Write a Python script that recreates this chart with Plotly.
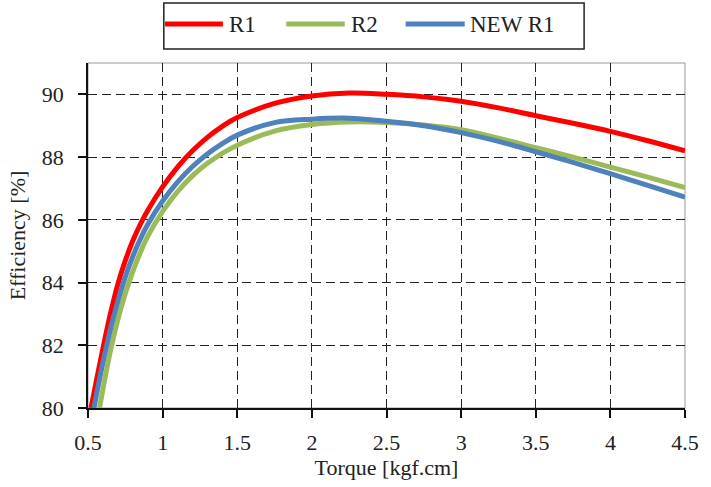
import plotly.graph_objects as go

# Torque [kgf.cm] and Efficiency [%]
r1_x = [0.52, 0.6, 0.65, 0.7, 0.75, 0.8, 0.85, 0.9, 1.0, 1.1, 1.2, 1.3, 1.4, 1.5, 1.75, 2.0, 2.25, 2.5, 2.75, 3.0, 3.25, 3.5, 3.75, 4.0, 4.25, 4.5]
r1_y = [80.0, 81.9, 83.0, 83.95, 84.7, 85.33, 85.85, 86.3, 87.05, 87.68, 88.2, 88.63, 88.98, 89.26, 89.71, 89.95, 90.04, 90.0, 89.92, 89.78, 89.57, 89.32, 89.08, 88.82, 88.52, 88.2]

r2_x = [0.577, 0.65, 0.7, 0.75, 0.8, 0.85, 0.9, 1.0, 1.1, 1.2, 1.3, 1.4, 1.5, 1.75, 2.0, 2.25, 2.5, 2.75, 3.0, 3.25, 3.5, 3.75, 4.0, 4.25, 4.5]
r2_y = [80.0, 81.82, 82.82, 83.65, 84.35, 84.95, 85.47, 86.27, 86.9, 87.4, 87.8, 88.12, 88.38, 88.83, 89.04, 89.12, 89.1, 89.02, 88.87, 88.6, 88.3, 88.0, 87.68, 87.36, 87.03]

new_r1_x = [0.54, 0.6, 0.65, 0.7, 0.75, 0.8, 0.85, 0.9, 1.0, 1.1, 1.2, 1.3, 1.4, 1.5, 1.75, 2.0, 2.25, 2.5, 2.75, 3.0, 3.25, 3.5, 3.75, 4.0, 4.25, 4.5]
new_r1_y = [80.0, 81.45, 82.5, 83.4, 84.18, 84.83, 85.38, 85.85, 86.6, 87.2, 87.7, 88.1, 88.43, 88.7, 89.1, 89.21, 89.24, 89.14, 89.0, 88.78, 88.5, 88.17, 87.83, 87.47, 87.1, 86.72]

series_names = ["R1", "R2", "NEW R1"]
series_colors = ["#FF0000", "#9BBB59", "#4F81BD"]

x_ticks = [0.5, 1, 1.5, 2, 2.5, 3, 3.5, 4, 4.5]
x_tick_text = ["0.5", "1", "1.5", "2", "2.5", "3", "3.5", "4", "4.5"]
y_ticks = [80, 82, 84, 86, 88, 90]

FONT = "Liberation Serif, Times New Roman, Times, serif"
TXT = "#222"

fig = go.Figure()
for name, xs, ys, col in zip(series_names, [r1_x, r2_x, new_r1_x], [r1_y, r2_y, new_r1_y], series_colors):
    fig.add_trace(go.Scatter(x=xs, y=ys, mode="lines", name=name, showlegend=False,
                             line=dict(color=col, width=5, shape="spline", smoothing=1.0)))

fig.update_layout(
    width=711, height=487,
    margin=dict(l=88, r=18, t=63, b=79),
    paper_bgcolor="white", plot_bgcolor="white",
    font=dict(family=FONT, size=22, color=TXT),
    xaxis=dict(range=[0.5, 4.5], tickvals=x_ticks, ticktext=x_tick_text,
               showgrid=True, gridcolor="#222", griddash="9px,5px", gridwidth=1.3,
               showline=True, linecolor="#111", linewidth=1.8,
               ticks="outside", ticklen=8, tickwidth=1.5, tickcolor="#111",
               ticklabelstandoff=6, zeroline=False,
               tickfont=dict(family=FONT, size=22, color=TXT),
               title=dict(text="Torque [kgf.cm]", standoff=4, font=dict(size=22, family=FONT, color=TXT))),
    yaxis=dict(range=[80, 91], tickvals=y_ticks,
               showgrid=True, gridcolor="#222", griddash="9px,5px", gridwidth=1.3,
               showline=True, linecolor="#111", linewidth=1.8,
               ticks="outside", ticklen=8, tickwidth=1.5, tickcolor="#111",
               ticklabelstandoff=10, zeroline=False,
               tickfont=dict(family=FONT, size=22, color=TXT),
               title=dict(text="Efficiency [%]", standoff=10, font=dict(size=22, family=FONT, color=TXT))),
)

# plot-area frame (top/right thin grey)
fig.add_shape(type="rect", xref="paper", yref="paper", x0=0, y0=0, x1=1, y1=1,
              line=dict(color="#999", width=1), layer="below")

# legend box drawn in paper coordinates
fig.add_shape(type="rect", xref="paper", yref="paper", x0=0.127, x1=0.831, y0=1.0406, y1=1.174,
              line=dict(color="#222", width=1.5), fillcolor="white")
leg_line_x = [(0.129, 0.226), (0.332, 0.430), (0.532, 0.631)]
leg_text_x = [0.233, 0.437, 0.636]
for name, col, (a, b), tx in zip(series_names, series_colors, leg_line_x, leg_text_x):
    fig.add_shape(type="line", xref="paper", yref="paper", x0=a, x1=b, y0=1.113, y1=1.113,
                  line=dict(color=col, width=5))
    fig.add_annotation(xref="paper", yref="paper", x=tx, y=1.113, text=name, showarrow=False,
                       xanchor="left", yanchor="middle", font=dict(size=23, family=FONT, color=TXT))

fig.write_html("out.html")
